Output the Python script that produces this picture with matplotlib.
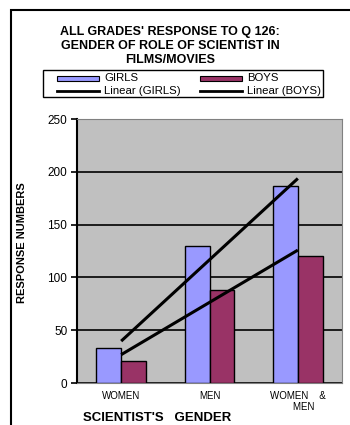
import matplotlib
matplotlib.use('Agg')
import matplotlib.pyplot as plt
from matplotlib.patches import Rectangle
from matplotlib.lines import Line2D
import numpy as np

plt.rcParams['font.family'] = ['Liberation Sans', 'DejaVu Sans']

categories = ['WOMEN', 'MEN', 'WOMEN    &\n    MEN']
girls = [33, 130, 187]
boys = [21, 88, 120]
yticks = [0, 50, 100, 150, 200, 250]

GIRL_C = '#9999FF'
BOY_C = '#993366'
W, H = 350, 425

fig = plt.figure(figsize=(3.5, 4.25), dpi=100)
fig.patch.set_facecolor('white')

# outer chart border (runs off the right/bottom edge like the source)
fig.add_artist(Rectangle((11 / W, -0.05), 1.2, 1 - 10 / H + 0.05,
                         transform=fig.transFigure, facecolor='none',
                         edgecolor='black', linewidth=1.5))

ax = fig.add_axes([77 / W, (H - 383) / H, 265 / W, 264 / H])
ax.set_facecolor('#C0C0C0')
x = np.arange(len(categories))
bw = 0.283
ax.bar(x - bw / 2, girls, bw, color=GIRL_C, edgecolor='black', linewidth=1, zorder=3)
ax.bar(x + bw / 2, boys, bw, color=BOY_C, edgecolor='black', linewidth=1, zorder=3)

# linear trend lines over the categories
for vals in (girls, boys):
    k, b = np.polyfit(x + 1, vals, 1)
    ax.plot([x[0], x[-1]], [k * 1 + b, k * 3 + b], color='black', linewidth=2.2,
            zorder=4, solid_capstyle='butt')

ax.set_xlim(-0.5, 2.5)
ax.set_ylim(0, 250)
ax.set_yticks(yticks)
ax.set_yticklabels([str(t) for t in yticks], fontsize=8.5)
ax.yaxis.grid(True, color='black', linewidth=1.2, zorder=1)
ax.set_axisbelow(True)
ax.set_xticks(x)
ax.set_xticklabels(categories, fontsize=7, linespacing=1.1)
ax.tick_params(axis='x', length=0, pad=6)
ax.tick_params(axis='y', length=4, width=1.2, direction='out', pad=3)
for s in ('top', 'right'):
    ax.spines[s].set_color('#808080')
ax.spines['bottom'].set_color('#808080')
ax.spines['left'].set_color('black')
ax.spines['left'].set_linewidth(1.5)

fig.text(22 / W, 1 - 243 / H, 'RESPONSE NUMBERS', rotation=90, ha='center', va='center',
         fontsize=8, fontweight='bold')
fig.text(157 / W, 1 - 418 / H, "SCIENTIST'S   GENDER", ha='center', va='center',
         fontsize=9.5, fontweight='bold')

# title
fig.text(170 / W, 1 - 26 / H, "ALL GRADES' RESPONSE TO Q 126:\nGENDER OF ROLE OF SCIENTIST IN\nFILMS/MOVIES",
         ha='center', va='top', fontsize=9, fontweight='bold', linespacing=1.2)

# legend box
fig.add_artist(Rectangle((43 / W, 1 - 97 / H), 280 / W, 27 / H, transform=fig.transFigure,
                         facecolor='white', edgecolor='black', linewidth=1))
for cx, col, name in ((57, GIRL_C, 'GIRLS'), (200, BOY_C, 'BOYS')):
    fig.add_artist(Rectangle((cx / W, 1 - 80.5 / H), 42 / W, 5 / H, transform=fig.transFigure,
                             facecolor=col, edgecolor='black', linewidth=0.8))
    fig.text((cx + 47) / W, 1 - 78 / H, name, ha='left', va='center', fontsize=8.2)
    fig.add_artist(Line2D([cx / W, (cx + 42) / W], [1 - 91 / H, 1 - 91 / H],
                          transform=fig.transFigure, color='black', linewidth=2))
    fig.text((cx + 47) / W, 1 - 91 / H, 'Linear (%s)' % name, ha='left', va='center', fontsize=8.2)

fig.savefig('out.png', dpi=100, facecolor='white')
plt.close()
